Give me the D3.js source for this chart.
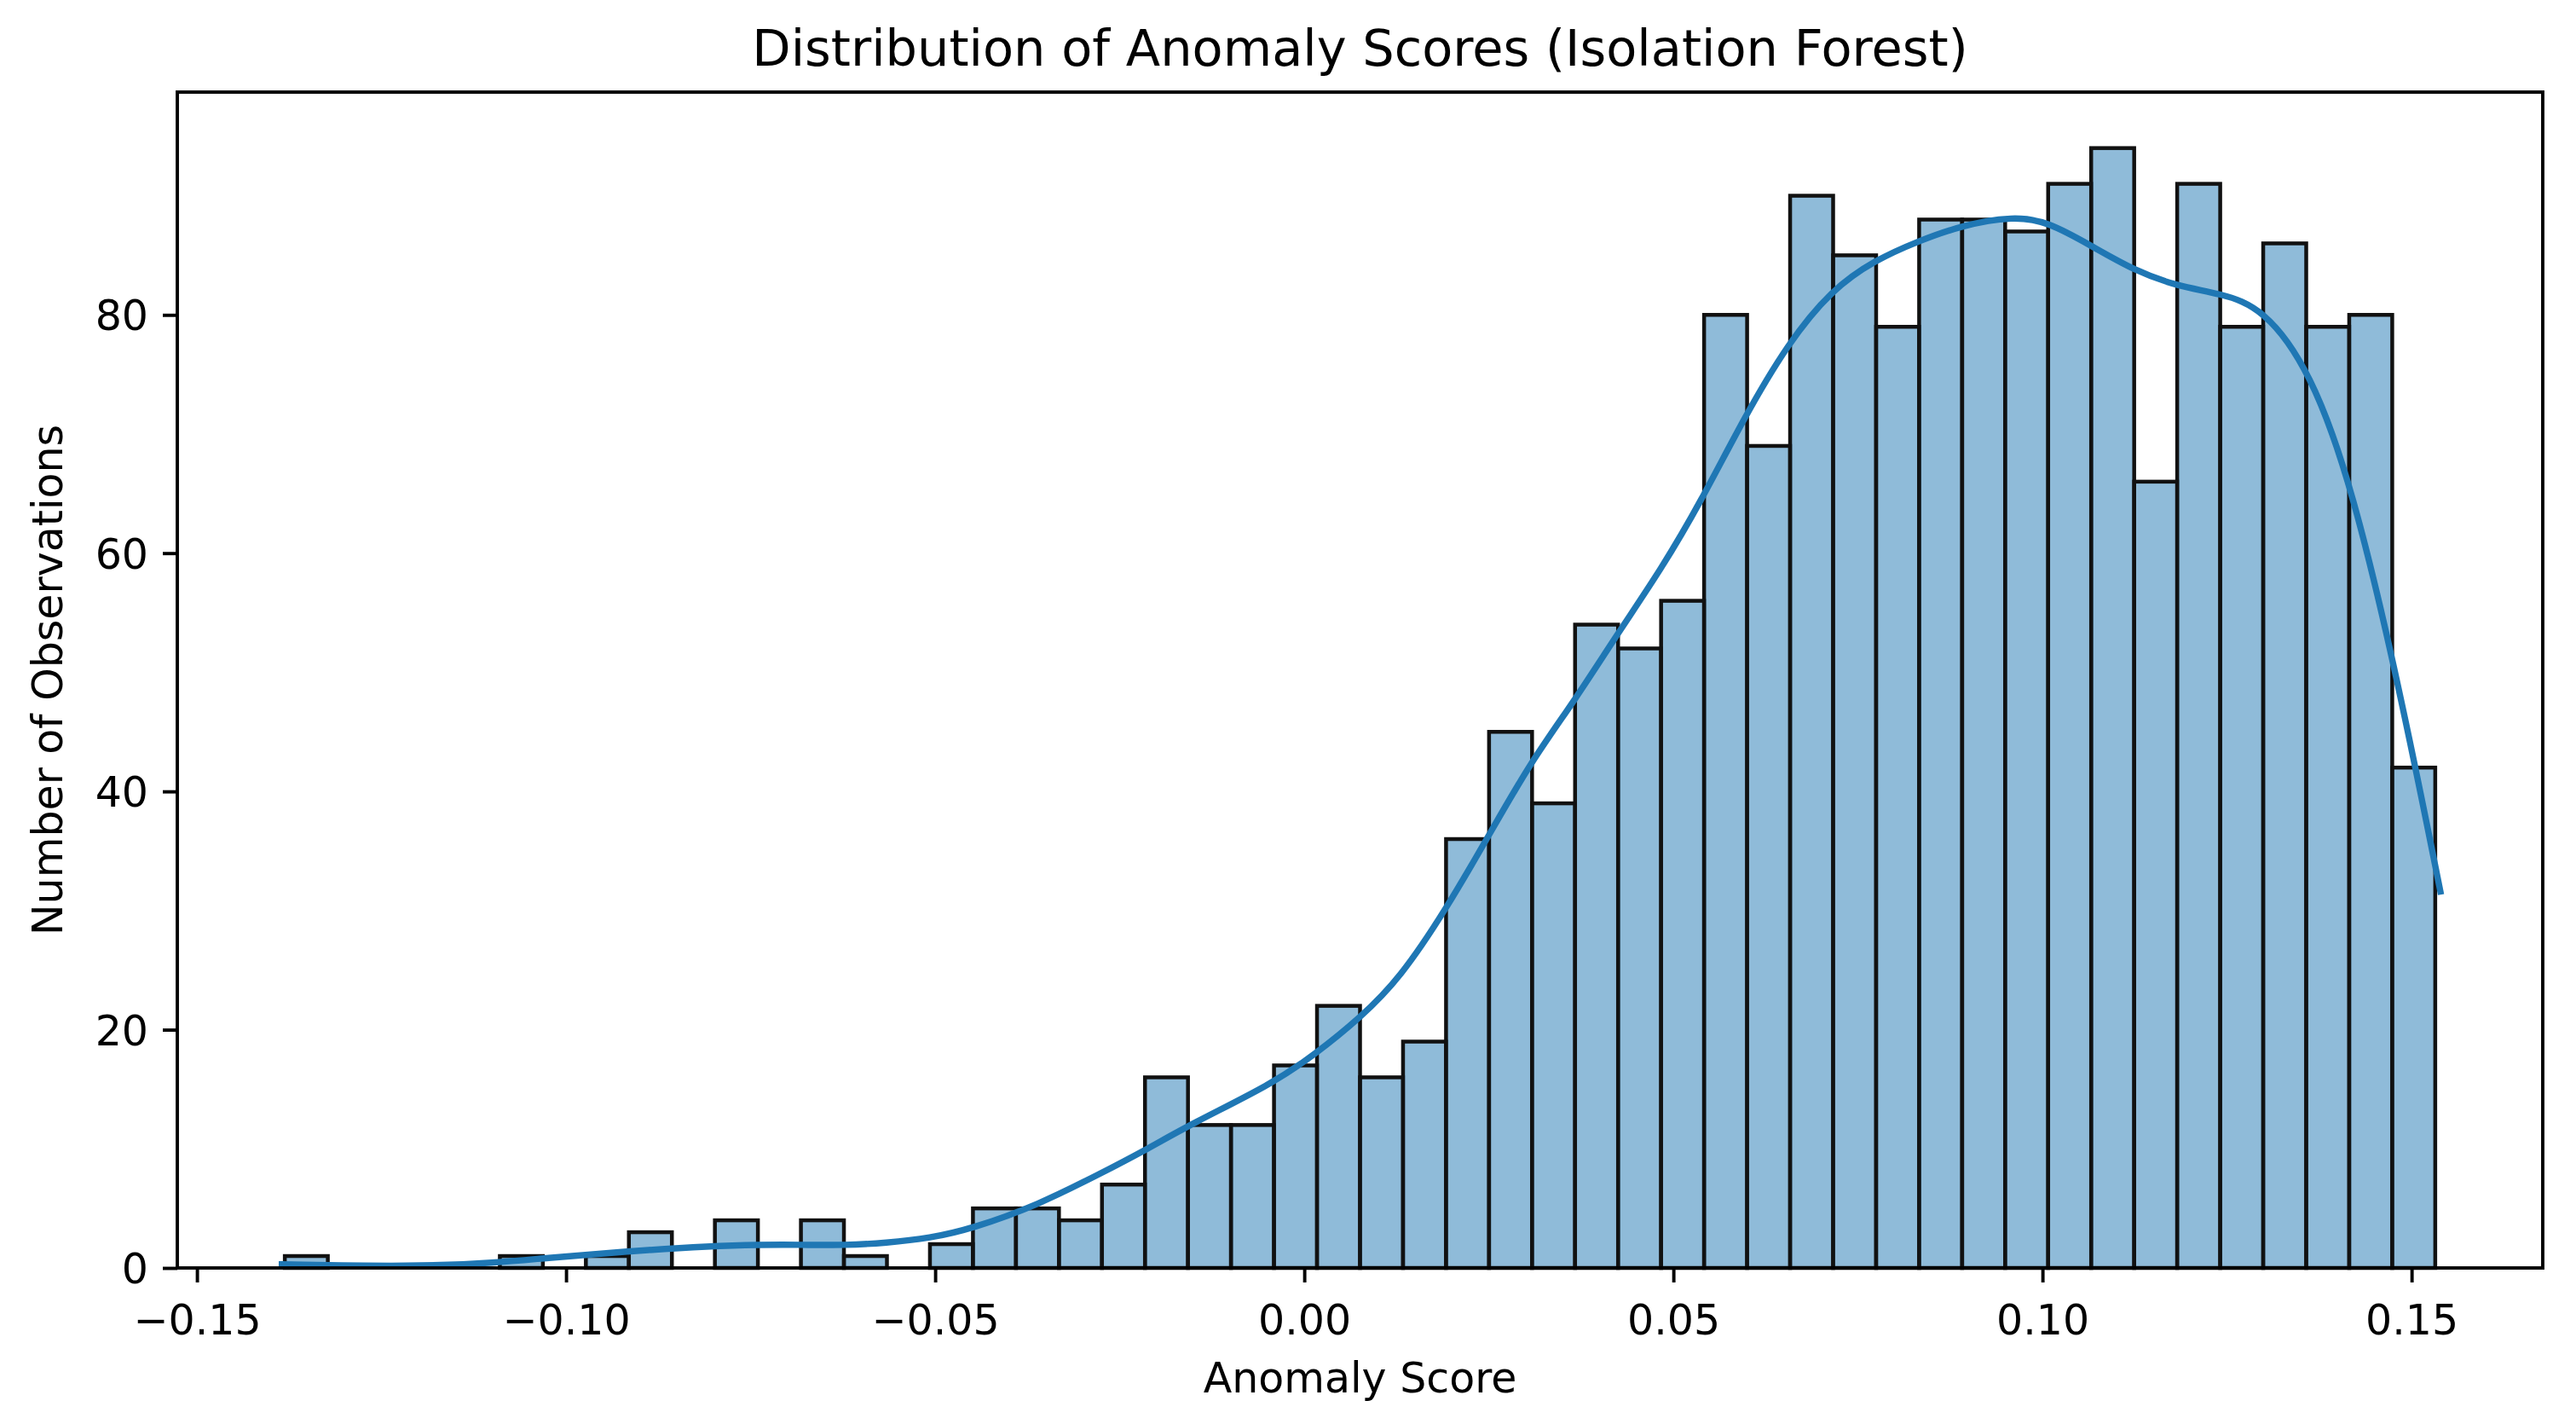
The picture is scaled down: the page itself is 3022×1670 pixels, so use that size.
<!DOCTYPE html>
<html>
<head>
<meta charset="utf-8">
<script src="https://cdn.jsdelivr.net/npm/d3@7/dist/d3.min.js"></script>
<style>
  html, body { margin: 0; padding: 0; background: #ffffff; }
  svg { display: block; }
  text { font-family: "DejaVu Sans", sans-serif; fill: #000; }
</style>
</head>
<body>
<svg id="chart" width="3022" height="1670"></svg>
<script>
// ---------- data ----------
const chartTitle = "Distribution of Anomaly Scores (Isolation Forest)";
const xLabel = "Anomaly Score";
const yLabel = "Number of Observations";

// histogram: 50 equal bins between the min and max anomaly score
const binLow = -0.1381;
const binHigh = 0.1532;
const binCounts = [
  1, 0, 0, 0, 0, 1, 0, 1, 3, 0,
  4, 0, 4, 1, 0, 2, 5, 5, 4, 7,
  16, 12, 12, 17, 22, 16, 19, 36, 45, 39,
  54, 52, 56, 80, 69, 90, 85, 79, 88, 88,
  87, 91, 94, 66, 91, 79, 86, 79, 80, 42
];

// KDE curve (scaled to counts)
const kdeX = [
  -0.1385, -0.1205, -0.1091, -0.1033, -0.0917, -0.0801, -0.0741, -0.0682, -0.0622, -0.0567,
  -0.0507, -0.0450, -0.0360, -0.0277, -0.0218, -0.0153, -0.0045, 0.0014, 0.0076, 0.0130,
  0.0192, 0.0249, 0.0307, 0.0366, 0.0425, 0.0484, 0.0537, 0.0596, 0.0655,
  0.0714, 0.0773, 0.0832, 0.0890, 0.0961, 0.1008, 0.1066, 0.1125, 0.1183, 0.1241,
  0.1299, 0.1363, 0.1420, 0.1483, 0.1539
];
const kdeY = [
  0.3, 0.1, 0.45, 0.8, 1.4, 1.85, 1.95, 1.95, 1.9, 2.1,
  2.5, 3.3, 5.3, 7.9, 9.8, 12.1, 15.4, 17.9, 21.0, 24.35,
  30.1, 36.2, 42.5, 47.6, 53.3, 58.7, 64.3, 71.4, 77.6,
  82.1, 84.6, 86.2, 87.5, 88.3, 87.8, 85.8, 83.7, 82.4, 81.8,
  80.6, 75.3, 65.5, 48.9, 31.6
];

const xTicks = [-0.15, -0.10, -0.05, 0.00, 0.05, 0.10, 0.15];
const yTicks = [0, 20, 40, 60, 80];

// ---------- layout ----------
const W = 3022, H = 1670;
const margin = { left: 208, top: 108, right: 39, bottom: 183 };
const iw = W - margin.left - margin.right;
const ih = H - margin.top - margin.bottom;
const fs = 49;          // tick / axis label font size (px)
const titleFs = 59;
const tickLen = 17, tickPad = 17, spineW = 3.9;

const svg = d3.select("#chart");
const g = svg.append("g").attr("transform", `translate(${margin.left},${margin.top})`);

// bins
const binW = (binHigh - binLow) / binCounts.length;
const bins = binCounts.map((c, i) => ({ x0: binLow + i * binW, x1: binLow + (i + 1) * binW, c }));

// scales with matplotlib-like 5% x margin and 5% top margin on y
const span = binHigh - binLow;
const x = d3.scaleLinear().domain([binLow - 0.05 * span, binHigh + 0.05 * span]).range([0, iw]);
const yMax = d3.max(binCounts) * 1.05;
const y = d3.scaleLinear().domain([0, yMax]).range([ih, 0]);

// bars
g.append("g").selectAll("rect").data(bins).join("rect")
  .attr("x", d => x(d.x0))
  .attr("y", d => y(d.c))
  .attr("width", d => x(d.x1) - x(d.x0))
  .attr("height", d => y(0) - y(d.c))
  .attr("fill", "#1f77b4")
  .attr("fill-opacity", 0.5)
  .attr("stroke", "#111")
  .attr("stroke-width", 4.5);

// KDE line
const kdePts = kdeX.map((v, i) => [v, kdeY[i]]);
g.append("path")
  .datum(kdePts)
  .attr("fill", "none")
  .attr("stroke", "#1f77b4")
  .attr("stroke-width", 7.4)
  .attr("stroke-linejoin", "round")
  .attr("stroke-linecap", "square")
  .attr("d", d3.line().x(d => x(d[0])).y(d => y(d[1])).curve(d3.curveBasis));

// axes
const fmtX = v => (v < 0 ? "\u2212" : "") + Math.abs(v).toFixed(2);
const xAxis = d3.axisBottom(x).tickValues(xTicks).tickFormat(fmtX).tickSize(tickLen).tickPadding(tickPad);
const yAxis = d3.axisLeft(y).tickValues(yTicks).tickFormat(d3.format("d")).tickSize(tickLen).tickPadding(tickPad);

const gx = g.append("g").attr("transform", `translate(0,${ih})`).call(xAxis);
gx.select(".domain").remove();
gx.selectAll(".tick line").attr("stroke", "#000").attr("stroke-width", spineW);
gx.selectAll(".tick text")
  .attr("font-size", fs)
  .attr("font-family", "DejaVu Sans")
  .attr("fill", "#000")
  .attr("dy", null)
  .attr("y", 78);

const gy = g.append("g").call(yAxis);
gy.select(".domain").remove();
gy.selectAll(".tick line").attr("stroke", "#000").attr("stroke-width", spineW);
gy.selectAll(".tick text")
  .attr("font-size", fs)
  .attr("font-family", "DejaVu Sans")
  .attr("fill", "#000")
  .attr("dy", "0.36em");

// frame (spines)
g.append("rect")
  .attr("x", 0).attr("y", 0).attr("width", iw).attr("height", ih)
  .attr("fill", "none").attr("stroke", "#000").attr("stroke-width", spineW);

// labels
svg.append("text")
  .attr("x", margin.left + iw / 2).attr("y", 77)
  .attr("text-anchor", "middle")
  .attr("font-size", titleFs)
  .text(chartTitle);

svg.append("text")
  .attr("x", margin.left + iw / 2).attr("y", 1633)
  .attr("text-anchor", "middle")
  .attr("font-size", fs)
  .text(xLabel);

svg.append("text")
  .attr("transform", `translate(73,${margin.top + ih / 2}) rotate(-90)`)
  .attr("text-anchor", "middle")
  .attr("font-size", fs)
  .text(yLabel);
</script>
</body>
</html>
